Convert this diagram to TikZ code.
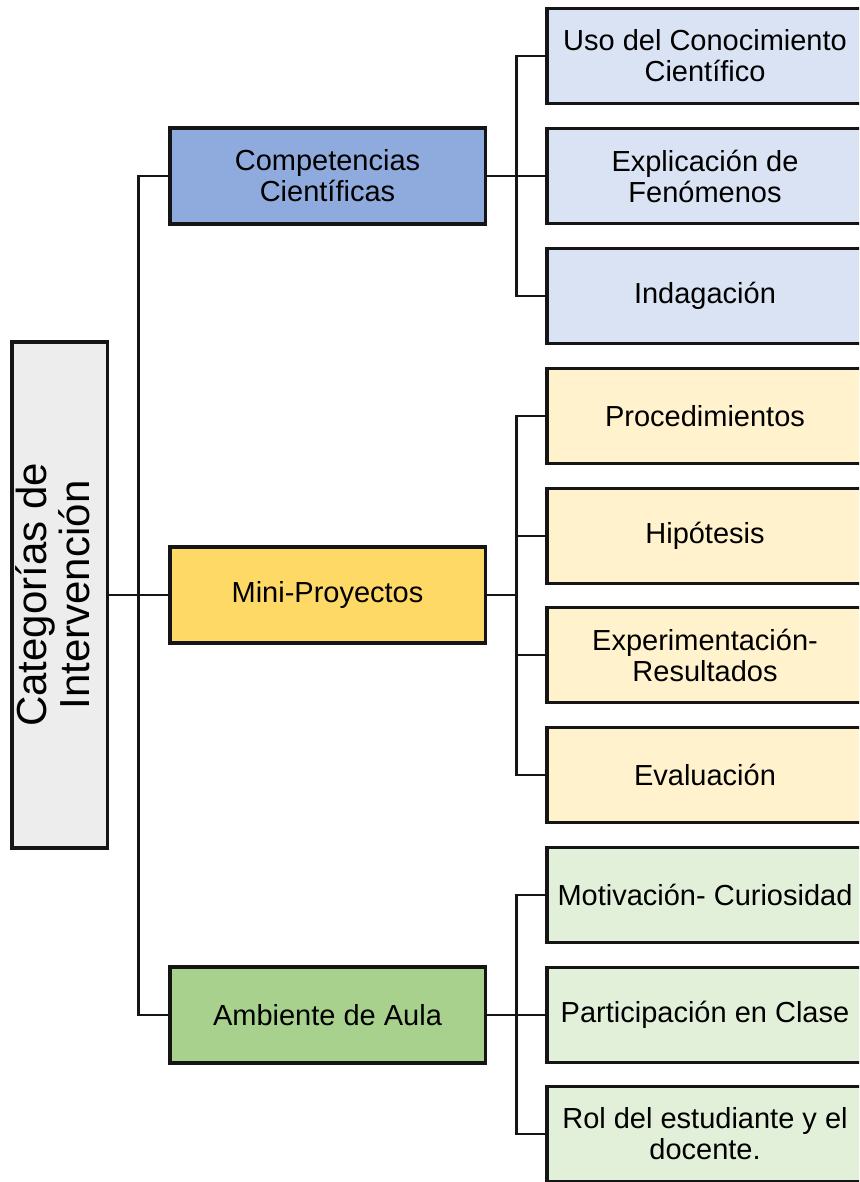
\documentclass[tikz,border=0pt]{standalone}
\usepackage{fontspec}
\setmainfont{Liberation Sans}
\definecolor{rootfill}{HTML}{EDEDED}
\definecolor{compfill}{HTML}{8FAADC}
\definecolor{compleaf}{HTML}{DAE3F3}
\definecolor{minifill}{HTML}{FFD966}
\definecolor{minileaf}{HTML}{FFF2CC}
\definecolor{ambfill}{HTML}{A9D18E}
\definecolor{ambleaf}{HTML}{E2F0D9}
\definecolor{edge}{HTML}{151515}
\begin{document}
\begin{tikzpicture}[x=1pt,y=-1pt,
  box/.style={draw=edge, line width=3.5pt, align=center, inner sep=0pt,
    font=\fontsize{29}{31}\selectfont},
  rootbox/.style={box, fill=rootfill, minimum width=95.5pt, minimum height=506pt,
    font=\fontsize{42}{45}\selectfont},
  midbox/.style={box, minimum width=315.5pt, minimum height=96pt},
  leafbox/.style={box, minimum width=316.5pt, minimum height=95pt},
  link/.style={draw=edge, line width=2.3pt}]
\useasboundingbox (0,0) rectangle (859,1182);
\clip (0,0) rectangle (859,1182);

% root category, set vertically
\node[rootbox] (root) at (59.5,595) {\rotatebox{90}{\begin{tabular}{@{}c@{}}Categorías de\\[-2pt] Intervención\end{tabular}}};

% the three main categories
\node[midbox, fill=compfill] (comp) at (327.5,176) {Competencias\\Científicas};
\node[midbox, fill=minifill] (mini) at (327.5,595) {Mini-Proyectos};
\node[midbox, fill=ambfill] (amb) at (327.5,1015) {Ambiente de Aula};

% sub-categories
\node[leafbox, fill=compleaf] (c1) at (705,56) {Uso del Conocimiento\\Científico};
\node[leafbox, fill=compleaf] (c2) at (705,176) {Explicación de\\Fenómenos};
\node[leafbox, fill=compleaf] (c3) at (705,296) {Indagación};
\node[leafbox, fill=minileaf] (m1) at (705,416) {Procedimientos};
\node[leafbox, fill=minileaf] (m2) at (705,536) {Hipótesis};
\node[leafbox, fill=minileaf] (m3) at (705,655) {Experimentación-\\Resultados};
\node[leafbox, fill=minileaf] (m4) at (705,775) {Evaluación};
\node[leafbox, fill=ambleaf] (a1) at (705,895) {Motivación- Curiosidad};
\node[leafbox, fill=ambleaf] (a2) at (705,1015) {Participación en Clase};
\node[leafbox, fill=ambleaf] (a3) at (705,1134) {Rol del estudiante y el\\docente.};

% trunk lines
\coordinate (t1) at (138.5,0);
\coordinate (t2) at (516.5,0);

% root to main categories
\draw[link] (root.east) -- (mini.west);
\draw[link] (comp.west) -- (comp.west -| t1) -- (amb.west -| t1) -- (amb.west);

% main categories to sub-categories
\draw[link] (comp.east) -- (c2.west);
\draw[link] (c1.west) -- (c1.west -| t2) -- (c3.west -| t2) -- (c3.west);

\draw[link] (mini.east) -- (mini.east -| t2);
\draw[link] (m1.west) -- (m1.west -| t2) -- (m4.west -| t2) -- (m4.west);
\draw[link] (m2.west) -- (m2.west -| t2);
\draw[link] (m3.west) -- (m3.west -| t2);

\draw[link] (amb.east) -- (a2.west);
\draw[link] (a1.west) -- (a1.west -| t2) -- (a3.west -| t2) -- (a3.west);
\end{tikzpicture}
\end{document}
